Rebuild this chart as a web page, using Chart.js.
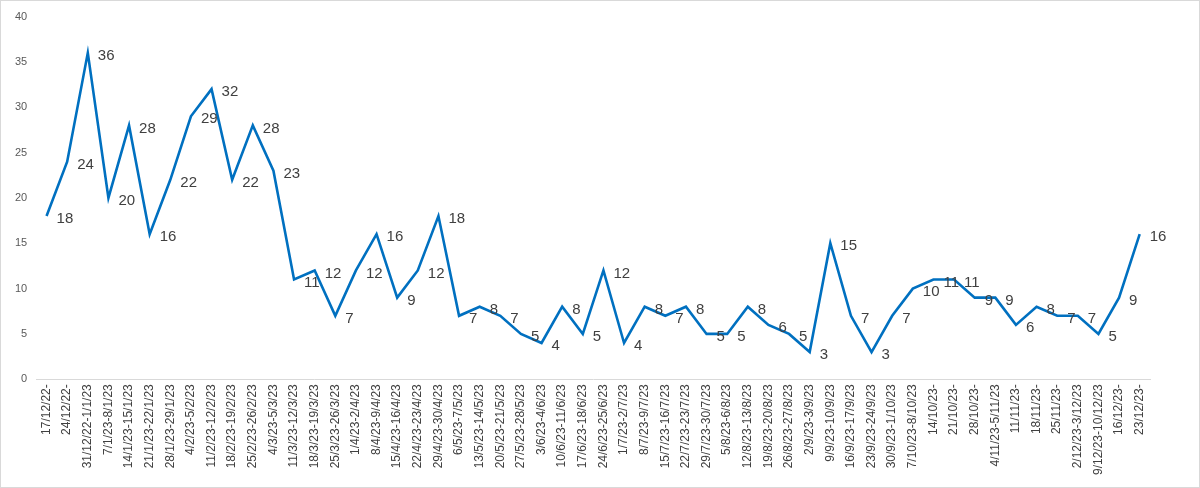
<!DOCTYPE html>
<html>
<head>
<meta charset="utf-8">
<script src="https://cdn.jsdelivr.net/npm/chart.js@4/dist/chart.umd.min.js"></script>
<style>
html,body{margin:0;padding:0;background:#fff;}
#wrap{position:absolute;left:0;top:0;width:1198px;height:486px;border:1px solid #d9d9d9;}
</style>
</head>
<body>
<div id="wrap"><canvas id="c" width="1198" height="486"></canvas></div>
<script>
const categories = [
"17/12/22-","24/12/22-","31/12/22-1/1/23","7/1/23-8/1/23","14/1/23-15/1/23","21/1/23-22/1/23",
"28/1/23-29/1/23","4/2/23-5/2/23","11/2/23-12/2/23","18/2/23-19/2/23","25/2/23-26/2/23","4/3/23-5/3/23",
"11/3/23-12/3/23","18/3/23-19/3/23","25/3/23-26/3/23","1/4/23-2/4/23","8/4/23-9/4/23","15/4/23-16/4/23",
"22/4/23-23/4/23","29/4/23-30/4/23","6/5/23-7/5/23","13/5/23-14/5/23","20/5/23-21/5/23","27/5/23-28/5/23",
"3/6/23-4/6/23","10/6/23-11/6/23","17/6/23-18/6/23","24/6/23-25/6/23","1/7/23-2/7/23","8/7/23-9/7/23",
"15/7/23-16/7/23","22/7/23-23/7/23","29/7/23-30/7/23","5/8/23-6/8/23","12/8/23-13/8/23","19/8/23-20/8/23",
"26/8/23-27/8/23","2/9/23-3/9/23","9/9/23-10/9/23","16/9/23-17/9/23","23/9/23-24/9/23","30/9/23-1/10/23",
"7/10/23-8/10/23","14/10/23-","21/10/23-","28/10/23-","4/11/23-5/11/23","11/11/23-",
"18/11/23-","25/11/23-","2/12/23-3/12/23","9/12/23-10/12/23","16/12/23-","23/12/23-"
];
const values = [
18,24,36,20,28,16,22,29,32,22,28,23,
11,12,7,12,16,9,12,18,7,8,7,5,
4,8,5,12,4,8,7,8,5,5,8,6,
5,3,15,7,3,7,10,11,11,9,9,6,
8,7,7,5,9,16
];
const yTicks = [0,5,10,15,20,25,30,35,40];

const labelPlugin = {
  id: 'valueLabels',
  afterDatasetsDraw(chart) {
    const ctx = chart.ctx;
    const meta = chart.getDatasetMeta(0);
    ctx.save();
    ctx.font = '15px "Liberation Sans", Arial, sans-serif';
    ctx.fillStyle = '#404040';
    ctx.textAlign = 'left';
    ctx.textBaseline = 'middle';
    meta.data.forEach((pt, i) => {
      ctx.fillText(String(values[i]), pt.x + 10, pt.y + 3);
    });
    ctx.restore();
  }
};

new Chart(document.getElementById('c'), {
  type: 'line',
  data: {
    labels: categories,
    datasets: [{
      data: values,
      borderColor: '#0070C0',
      borderWidth: 2.6,
      pointRadius: 0,
      tension: 0,
      fill: false
    }]
  },
  options: {
    responsive: false,
    animation: false,
    layout: { padding: { top: 0, right: 49, bottom: 7, left: 5 } },
    plugins: { legend: { display: false }, tooltip: { enabled: false } },
    scales: {
      x: {
        offset: true,
        grid: { display: false, drawTicks: false },
        border: { display: true, color: '#d9d9d9', width: 1 },
        ticks: {
          autoSkip: false,
          maxRotation: 90,
          minRotation: 90,
          padding: 5,
          color: '#404040',
          font: { size: 12, family: '"Liberation Sans", Arial, sans-serif' }
        }
      },
      y: {
        min: 0,
        max: 40,
        afterBuildTicks(axis) { axis.ticks = yTicks.map(v => ({ value: v })); },
        grid: { display: false, drawTicks: false },
        border: { display: false },
        ticks: {
          padding: 9,
          color: '#595959',
          font: { size: 11, family: '"Liberation Sans", Arial, sans-serif' }
        }
      }
    }
  },
  plugins: [labelPlugin]
});
</script>
</body>
</html>
